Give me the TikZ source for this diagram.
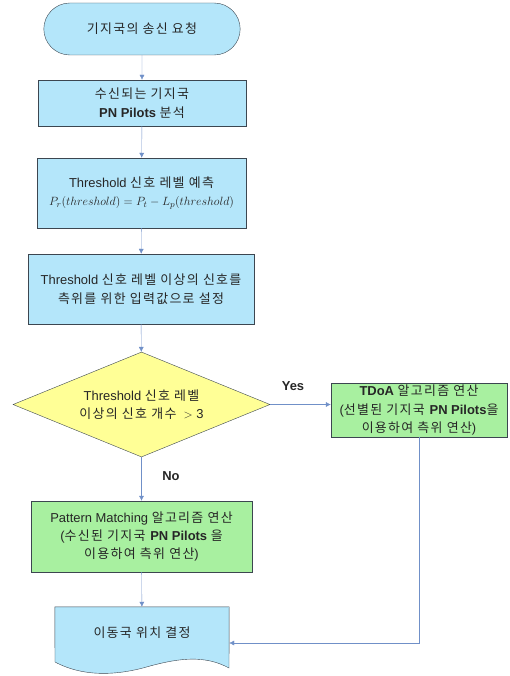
\documentclass[tikz,border=0pt]{standalone}
\usepackage{fontspec}
\setmainfont{Liberation Sans}
\newfontfamily\kofont[LetterSpace=10]{Noto Sans CJK KR}
\newcommand\ko[1]{{\kofont #1}}
\usetikzlibrary{shapes.geometric,shapes.misc,arrows.meta}
\definecolor{boxblue}{RGB}{180,230,250}
\definecolor{boxgreen}{RGB}{168,240,160}
\definecolor{boxyellow}{RGB}{255,255,150}
\definecolor{lineblue}{RGB}{112,144,200}
\definecolor{edgegray}{RGB}{60,70,80}
\tikzset{
  blockbox/.style={draw=edgegray,fill=boxblue,align=center,inner sep=2bp},
  algobox/.style={draw=edgegray,fill=boxgreen,align=center,inner sep=2bp},
  flow/.style={draw=lineblue,-{Latex[length=5bp,width=5bp]}},
}
\begin{document}
\begin{tikzpicture}[x=1bp,y=-1bp,font=\fontsize{13}{18.5}\selectfont,text=black!85]
\useasboundingbox (0,0) rectangle (510,676);
%% start
\node[rounded rectangle,draw=edgegray,fill=boxblue,minimum width=203bp,minimum height=52bp] (start) at (142,29) {\ko{기지국의 송신 요청}};
%% pilots
\node[blockbox,minimum width=208bp,minimum height=46bp] (recv) at (142,103) {\ko{수신되는 기지국}\\\textbf{PN Pilots} \ko{분석}};
%% threshold
\node[blockbox,minimum width=209bp,minimum height=70bp] (pred) at (141.5,193) {Threshold \ko{신호 레벨 예측}\\[-1bp]$P_r(threshold) = P_t - L_p(threshold)$};
\node[blockbox,minimum width=226bp,minimum height=70bp] (sel) at (141,289) {Threshold \ko{신호 레벨 이상의 신호를}\\\ko{측위를 위한 입력값으로 설정}};
%% decision
\node[diamond,draw=edgegray,fill=boxyellow,align=center,inner sep=0pt,aspect=2.45,minimum width=257bp,minimum height=105bp] (cond) at (141.5,404.5) {Threshold \ko{신호 레벨}\\\ko{이상의 신호 개수}\ \ $>$\ 3};
%% algorithms
\node[algobox,minimum width=176bp,minimum height=54bp] (tdoa) at (419,410) {\textbf{TDoA} \ko{알고리즘 연산}\\(\ko{선별된 기지국} \textbf{PN Pilots}\ko{을}\\\ko{이용하여 측위 연산})};
\node[algobox,minimum width=221bp,minimum height=71bp] (pm) at (141.5,536.5) {Pattern Matching \ko{알고리즘 연산}\\(\ko{수신된 기지국} \textbf{PN Pilots} \ko{을}\\\ko{이용하여 측위 연산})};
%% result
\node[minimum width=174bp,minimum height=52bp] (doc) at (142,633) {};
\draw[draw=edgegray,fill=boxblue] (doc.north west) -- (doc.north east) -- (229,668)
  .. controls (205,655) and (180,658) .. (150,666)
  .. controls (120,675) and (85,678) .. (55,662) -- cycle;
\node at (doc) {\ko{이동국 위치 결정}};
%% labels
\node[font=\fontsize{13}{16}\selectfont\bfseries] (yes) at (293,386) {Yes};
\node[font=\fontsize{13}{16}\selectfont\bfseries] (no) at (171,476) {No};
%% connectors
\draw[flow] (start) -- (recv);
\draw[flow] (recv) -- (pred);
\draw[flow] (pred) -- (sel);
\draw[flow] (sel) -- (cond);
\draw[flow] (cond.east) -- (cond.east -| tdoa.west);
\draw[flow] (cond) -- (pm);
\draw[flow] (pm) -- (doc);
\draw[flow] (tdoa.south) |- ([yshift=-10bp]doc.east);
\end{tikzpicture}
\end{document}
